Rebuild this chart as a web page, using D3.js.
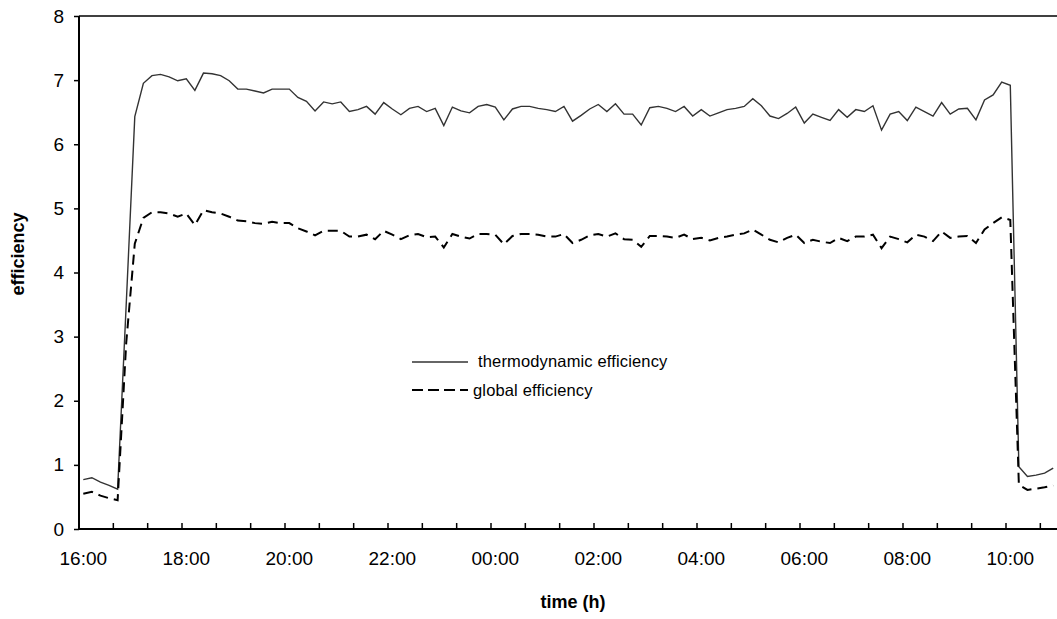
<!DOCTYPE html>
<html>
<head>
<meta charset="utf-8">
<script src="https://cdn.jsdelivr.net/npm/d3@7"></script>
<style>
    body { margin: 0; background: #fff; }
    text { font-family: Arial, "Liberation Sans", sans-serif; fill: #000; }
</style>
</head>
<body>
<div id="wrapper"></div>
<script>
// one value every 10 minutes, starting at 16:00
const startTime = "16:00";
const stepMinutes = 10;
const tickLabels = ["16:00","18:00","20:00","22:00","00:00","02:00","04:00","06:00","08:00","10:00"];
const yTicks = [0,1,2,3,4,5,6,7,8];

const thermodynamic = [
    0.77,0.80,0.73,0.68,0.62,3.50,6.43,6.95,7.07,7.09,
    7.05,6.99,7.02,6.84,7.11,7.10,7.07,6.99,6.86,6.86,
    6.83,6.80,6.86,6.86,6.86,6.73,6.67,6.52,6.66,6.63,
    6.66,6.51,6.54,6.59,6.47,6.65,6.55,6.46,6.56,6.59,
    6.51,6.56,6.29,6.58,6.52,6.49,6.59,6.62,6.58,6.38,
    6.55,6.59,6.59,6.56,6.54,6.51,6.59,6.36,6.45,6.55,
    6.62,6.51,6.63,6.47,6.47,6.30,6.57,6.59,6.56,6.51,
    6.59,6.44,6.54,6.44,6.49,6.54,6.56,6.59,6.71,6.60,
    6.44,6.40,6.48,6.58,6.33,6.47,6.42,6.37,6.54,6.42,
    6.54,6.51,6.60,6.22,6.47,6.51,6.37,6.58,6.51,6.44,
    6.65,6.47,6.55,6.56,6.38,6.69,6.77,6.97,6.92,0.97,
    0.82,0.84,0.87,0.95
];

const global = [
    0.55,0.58,0.52,0.48,0.45,2.90,4.45,4.85,4.94,4.94,
    4.92,4.87,4.92,4.74,4.97,4.94,4.92,4.87,4.81,4.80,
    4.77,4.76,4.79,4.77,4.77,4.69,4.64,4.58,4.65,4.65,
    4.65,4.56,4.56,4.59,4.52,4.65,4.59,4.52,4.58,4.60,
    4.55,4.56,4.39,4.60,4.56,4.53,4.60,4.60,4.59,4.44,
    4.57,4.60,4.60,4.59,4.56,4.56,4.60,4.46,4.51,4.58,
    4.60,4.56,4.61,4.52,4.51,4.40,4.57,4.57,4.56,4.54,
    4.59,4.52,4.54,4.50,4.54,4.56,4.59,4.61,4.67,4.59,
    4.51,4.47,4.54,4.59,4.46,4.51,4.48,4.46,4.54,4.49,
    4.56,4.56,4.59,4.38,4.56,4.52,4.47,4.59,4.56,4.49,
    4.64,4.54,4.56,4.57,4.46,4.67,4.77,4.86,4.82,0.69,
    0.61,0.63,0.65,0.68
];

function buildTimes(n) {
    var parts = startTime.split(":");
    var start = +parts[0]*60 + +parts[1];
    var out = [];
    for(let i=0; i<n; i++) {
        var m = (start + i*stepMinutes) % (24*60);
        out.push(String(Math.floor(m/60)).padStart(2,"0") + ":" + String(m%60).padStart(2,"0"));
    }
    return out;
}

const times = buildTimes(thermodynamic.length);

var dimension = {
    width: 1057,
    height: 619,
    margin: { top: 16, right: -0.5, bottom: 90, left: 79 }
}
dimension.boundedWidth = dimension.width - dimension.margin.left - dimension.margin.right;
dimension.boundedHeight = dimension.height - dimension.margin.top - dimension.margin.bottom;

const wrapper = d3.select("#wrapper")
    .append("svg")
    .attr("width", dimension.width)
    .attr("height", dimension.height);

const bounds = wrapper.append("g")
    .attr("transform", `translate(${dimension.margin.left},${dimension.margin.top})`);

const x = d3.scaleBand()
    .domain(times)
    .range([0, dimension.boundedWidth])
    .paddingInner(0)
    .paddingOuter(0);

const y = d3.scaleLinear()
    .domain([0, 8])
    .range([dimension.boundedHeight, 0]);

const cx = t => x(t) + x.bandwidth()/2;

// top border
bounds.append("line")
    .attr("x1", 0).attr("x2", dimension.boundedWidth)
    .attr("y1", y(8)).attr("y2", y(8))
    .attr("stroke", "#000").attr("stroke-width", 1.5);

// y axis
const yAxis = bounds.append("g")
    .call(d3.axisLeft(y).tickValues(yTicks).tickSize(5).tickPadding(10).tickFormat(d3.format("d")));
yAxis.select(".domain").attr("stroke-width", 2).attr("d", `M0,${y(0)}V${y(8)}`);
yAxis.selectAll(".tick line").attr("stroke-width", 1.5);
yAxis.selectAll("text")
    .style("font-size", "19px")
    .attr("font-family", null);

// x axis: ticks every 4 categories, labels every 12
const tickIdx = d3.range(0, times.length + 1, 4);
const xAxisG = bounds.append("g")
    .attr("transform", `translate(0,${dimension.boundedHeight})`);

xAxisG.append("line")
    .attr("x1", 0).attr("x2", dimension.boundedWidth)
    .attr("stroke", "#000").attr("stroke-width", 2);

xAxisG.selectAll(".xtick")
    .data(tickIdx)
    .enter()
    .append("line")
    .attr("class", "xtick")
    .attr("x1", d => d < times.length ? x(times[d]) : dimension.boundedWidth)
    .attr("x2", d => d < times.length ? x(times[d]) : dimension.boundedWidth)
    .attr("y1", 0).attr("y2", -6)
    .attr("stroke", "#000").attr("stroke-width", 1.5);

xAxisG.selectAll(".xlabel")
    .data(tickLabels)
    .enter()
    .append("text")
    .attr("class", "xlabel")
    .attr("x", d => cx(d))
    .attr("y", 36)
    .style("font-size", "19px")
    .style("text-anchor", "middle")
    .text(d => d);

// lines
const solidLine = d3.line()
    .x((d,i) => cx(times[i]))
    .y(d => y(d));

bounds.append("path")
    .datum(thermodynamic)
    .attr("d", solidLine)
    .attr("fill", "none")
    .attr("stroke", "#333")
    .attr("stroke-width", 1.4)
    .attr("stroke-linejoin", "miter");

bounds.append("path")
    .datum(global)
    .attr("d", solidLine)
    .attr("fill", "none")
    .attr("stroke", "#000")
    .attr("stroke-width", 2)
    .attr("stroke-dasharray", "10,6");

// axis titles
wrapper.append("text")
    .attr("transform", "translate(24,254) rotate(-90)")
    .style("font-size", "18px")
    .style("font-weight", "bold")
    .style("text-anchor", "middle")
    .text("efficiency");

wrapper.append("text")
    .attr("x", 573)
    .attr("y", 608)
    .style("font-size", "18px")
    .style("font-weight", "bold")
    .style("text-anchor", "middle")
    .text("time (h)");

// legend
const legend = wrapper.append("g");
legend.append("line")
    .attr("x1", 412).attr("x2", 468).attr("y1", 362).attr("y2", 362)
    .attr("stroke", "#333").attr("stroke-width", 1.4);
legend.append("text")
    .attr("x", 478).attr("y", 367)
    .style("font-size", "16.5px")
    .style("letter-spacing", "0.15px")
    .text("thermodynamic efficiency");
legend.append("line")
    .attr("x1", 412).attr("x2", 468).attr("y1", 390).attr("y2", 390)
    .attr("stroke", "#000").attr("stroke-width", 2)
    .attr("stroke-dasharray", "11,5");
legend.append("text")
    .attr("x", 473).attr("y", 396)
    .style("font-size", "16.5px")
    .style("letter-spacing", "0.15px")
    .text("global efficiency");
</script>
</body>
</html>
